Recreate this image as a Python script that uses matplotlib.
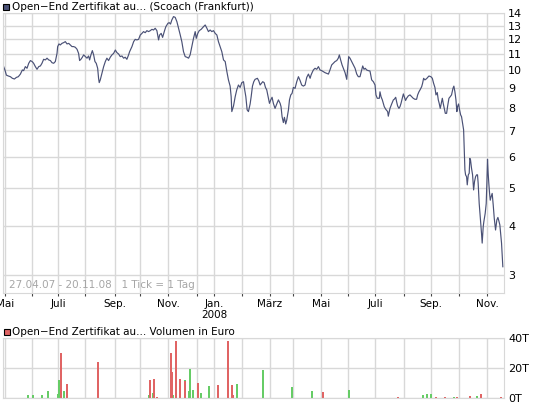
import numpy as np
import matplotlib
matplotlib.use('Agg')
import matplotlib.pyplot as plt
from matplotlib.patches import Rectangle
from matplotlib.ticker import FixedLocator, NullLocator

# ── Data (x = trading-day tick since 27.04.07, 1 Tick = 1 Tag) ────────────────
price_tick = [
    0, 1.3, 2.3, 3.8, 5.4, 6.9, 8.5, 10.0, 11.5, 13.1, 14.6, 15.6, 16.9, 18.2, 19.5,
    20.8, 22.1, 23.3, 24.6, 25.9, 27.2, 28.5, 29.7, 31.0, 32.3, 33.6, 34.9, 36.2,
    37.4, 38.7, 40.0, 41.3, 41.8, 42.8, 43.8, 45.1, 46.4, 47.7, 49.0, 50.3, 51.5,
    52.8, 54.1, 55.4, 56.7, 57.9, 58.7, 59.7, 60.8, 61.8, 63.1, 64.4, 65.6, 66.4,
    67.4, 68.5, 69.5, 70.5, 71.5, 72.6, 73.3, 73.8, 74.6, 75.9, 77.2, 78.5, 79.7,
    81.0, 82.3, 83.6, 84.9, 86.2, 87.4, 88.7, 90.0, 91.3, 92.6, 93.8, 95.1, 96.4,
    97.2, 99.0, 100.3, 101.5, 102.8, 104.1, 105.4, 106.7, 107.9, 109.2, 110.5,
    111.8, 113.1, 114.4, 115.6, 116.9, 118.2, 119.5, 120.3, 121.5, 122.6, 124.1,
    125.1, 126.7, 127.7, 128.7, 129.7, 131.0, 132.3, 133.6, 134.9, 136.2, 137.4,
    138.7, 140.0, 141.3, 142.6, 143.8, 145.1, 146.4, 147.7, 148.5, 149.7, 150.8,
    152.3, 154.1, 155.4, 156.7, 157.9, 159.2, 160.5, 161.8, 163.1, 164.4, 165.6,
    166.9, 168.2, 169.5, 170.8, 172.1, 173.3, 174.6, 175.4, 175.9, 177.2, 178.5,
    179.7, 181.0, 182.3, 183.6, 184.9, 185.6, 186.7, 187.7, 188.7, 190.0, 190.8,
    191.8, 192.8, 193.8, 195.6, 196.7, 197.7, 198.7, 199.7, 200.8, 201.8, 202.8,
    204.1, 204.9, 205.9, 206.9, 207.9, 209.2, 210.5, 211.8, 213.1, 213.8, 214.6,
    215.6, 216.4, 217.4, 218.2, 219.5, 220.3, 221.3, 222.3, 223.3, 224.6, 225.9,
    227.2, 228.5, 229.7, 231.0, 232.3, 233.6, 234.9, 236.2, 236.9, 237.7, 238.7,
    240.0, 241.3, 242.6, 243.8, 245.1, 246.4, 247.7, 249.0, 250.3, 251.5, 252.8,
    254.1, 255.4, 256.7, 257.9, 258.7, 259.7, 260.8, 261.8, 263.1, 264.4, 265.1,
    265.9, 266.9, 268.2, 269.5, 270.8, 272.1, 273.3, 274.6, 275.9, 276.7, 277.7,
    278.7, 279.7, 281.0, 282.3, 283.6, 284.9, 286.2, 286.9, 287.9, 289.5, 290.0,
    290.8, 291.8, 293.3, 294.4, 295.9, 296.4, 297.2, 297.7, 299.0, 300.3, 301.0,
    302.1, 302.8, 303.6, 304.6, 305.4, 306.2, 307.2, 308.0, 308.7, 309.7, 310.5,
    311.8, 313.1, 314.4, 315.6, 316.9, 318.2, 319.0, 320.0, 321.0, 322.1, 322.8,
    323.6, 324.6, 325.9, 326.7, 327.7, 329.2, 330.3, 331.3, 332.3, 333.1, 334.1,
    334.9, 335.6, 336.4, 337.2, 338.0, 338.7, 339.5, 340.3, 341.3, 342.1, 343.1,
    344.1, 345.1, 346.2, 346.9, 347.7, 348.5, 349.2, 349.7, 350.5, 351.3, 352.1,
    352.8, 353.6, 354.4, 354.9, 355.4, 355.9, 356.7, 357.2, 358.0, 358.7, 359.2,
    359.7, 360.5, 361.3, 362.1, 362.8, 363.6, 364.4, 365.1, 365.6, 366.4, 367.2,
    368.2, 368.7, 369.5, 370.0, 371.0, 371.8, 372.3, 372.8, 373.3, 373.8, 374.4,
    374.9, 375.6, 376.4, 377.2, 378.0, 379.0, 380.0, 380.8, 381.5, 382.3, 383.1,
    383.6, 384.1, 384.6,
]
price = [
    10.27, 10.00, 9.73, 9.68, 9.64, 9.55, 9.51, 9.60, 9.64, 9.79, 10.03, 9.99, 10.23,
    10.13, 10.43, 10.60, 10.54, 10.43, 10.23, 10.07, 10.23, 10.27, 10.43, 10.68,
    10.64, 10.75, 10.64, 10.60, 10.47, 10.43, 10.54, 11.06, 11.51, 11.69, 11.62,
    11.73, 11.78, 11.85, 11.69, 11.73, 11.62, 11.51, 11.51, 11.46, 11.33, 11.06,
    10.60, 10.68, 10.81, 10.96, 10.85, 10.75, 10.89, 10.64, 10.96, 11.24, 10.96,
    10.54, 10.43, 10.13, 9.55, 9.31, 9.46, 9.83, 10.23, 10.54, 10.75, 10.60, 10.81,
    10.96, 11.06, 11.28, 11.11, 11.02, 10.85, 10.89, 10.75, 10.81, 10.68, 10.96,
    11.17, 11.51, 11.85, 12.01, 11.97, 12.01, 12.32, 12.44, 12.57, 12.49, 12.64,
    12.57, 12.64, 12.74, 12.69, 12.82, 12.64, 11.97, 12.32, 12.44, 12.15, 12.64,
    12.94, 13.20, 13.25, 13.14, 13.46, 13.73, 13.67, 13.33, 12.82, 12.32, 11.85,
    11.17, 10.85, 10.81, 10.75, 10.96, 11.51, 12.08, 12.57, 12.08, 12.44, 12.64,
    12.74, 12.94, 13.07, 12.82, 12.57, 12.69, 12.57, 12.64, 12.44, 12.32, 11.85,
    11.51, 11.17, 10.64, 10.54, 9.93, 9.46, 9.12, 8.57, 7.85, 8.11, 8.57,
    8.92, 9.18, 9.05, 9.31, 9.36, 9.01, 8.57, 7.93, 7.85, 8.21, 8.57,
    9.12, 9.36, 9.49, 9.55, 9.40, 9.18, 9.27, 9.36, 9.31, 9.05, 8.92,
    8.49, 8.24, 8.41, 8.54, 8.24, 8.00, 8.21, 8.41, 8.24, 8.08, 7.62,
    7.36, 7.59, 7.30, 7.47, 7.93, 8.41, 8.66, 8.74, 9.05, 9.00, 9.36,
    9.64, 9.42, 9.18, 9.12, 9.18, 9.60, 9.79, 9.55, 9.73, 9.87, 10.03,
    10.13, 10.07, 10.23, 10.03, 9.99, 9.93, 9.87, 9.83, 9.79, 10.03, 10.33,
    10.43, 10.54, 10.60, 10.75, 10.96, 10.64, 10.33, 10.13, 9.87, 9.49, 10.13,
    10.85, 10.75, 10.54, 10.33, 10.13, 9.79, 9.64, 9.64, 10.03, 10.27, 10.07,
    10.13, 10.03, 9.99, 9.97, 9.46, 9.36, 9.18, 8.66, 8.49, 8.49, 8.82,
    8.57, 8.41, 8.08, 7.96, 7.85, 7.64, 7.85, 8.00, 8.21, 8.41, 8.44,
    8.54, 8.32, 8.11, 8.00, 8.08, 8.24, 8.49, 8.71, 8.57, 8.38, 8.49,
    8.61, 8.66, 8.57, 8.49, 8.44, 8.44, 8.66, 8.82, 8.94, 9.09, 9.27,
    9.55, 9.46, 9.53, 9.60, 9.68, 9.64, 9.55, 9.27, 9.05, 8.66, 8.78,
    8.41, 8.24, 8.00, 8.24, 8.49, 8.24, 8.00, 7.77, 7.77, 8.11, 8.49,
    8.57, 8.66, 9.00, 9.12, 8.82, 8.41, 7.85, 8.08, 8.21, 7.93, 7.70,
    7.62, 7.33, 7.05, 6.27, 5.57, 5.41, 5.35, 5.10, 5.41, 5.46, 5.96,
    5.91, 5.62, 5.41, 4.95, 5.20, 5.35, 5.41, 5.41, 5.15, 4.57, 4.23,
    3.83, 3.62, 3.99, 4.11, 4.31, 4.57, 5.15, 5.93, 5.46, 5.15, 4.85,
    4.66, 4.76, 4.85, 4.53, 4.19, 3.91, 4.15, 4.21, 4.13, 4.03, 3.76,
    3.62, 3.38, 3.15,
]

# volume in thousand euro; up = green, down = red
vol_up_tick = [19, 23, 30, 34, 42, 43, 47, 112, 115, 116, 131, 140, 143, 144, 146,
               152, 158, 180, 200, 222, 238, 266, 323, 326, 329, 347, 365]
vol_up = [2.2, 2.2, 2.2, 4.4, 2.7, 12.2, 4.4, 1.8, 3.1, 12.9, 1.8, 11.8, 4.4, 19.6,
          5.1, 3.1, 7.8, 9.6, 18.9, 7.1, 4.9, 5.6, 2.2, 2.9, 2.9, 0.9, 1.3]
vol_down_tick = [44, 49, 73, 113, 116, 118, 129, 130, 133, 136, 140, 150, 165, 173,
                 176, 177, 246, 304, 333, 340, 349, 359, 368, 383]
vol_down = [30.0, 9.6, 23.8, 11.8, 12.9, 0.7, 30.0, 17.1, 37.8, 12.9, 11.1, 10.0,
            8.4, 38.2, 8.4, 1.8, 4.0, 0.9, 0.9, 0.9, 0.9, 1.3, 2.9, 0.9]

# month starts (tick) and their labels
month_tick = [1.5, 22, 42, 62.5, 86, 105, 127, 149, 162.5, 184, 205, 223, 244.5,
              265.5, 286.5, 308.5, 329, 351, 372.5]
month_label = ['Mai', '', 'Juli', '', 'Sep.', '', 'Nov.', '', 'Jan.\n2008', '',
               'März', '', 'Mai', '', 'Juli', '', 'Sep.', '', 'Nov.']
price_ticks = [3, 4, 5, 6, 7, 8, 9, 10, 11, 12, 13, 14]
vol_ticks = [0, 20, 40]
vol_labels = ['0T', '20T', '40T']

LINE = '#4a5176'
GRID = '#d8d8d8'
RED = '#e06464'
GREEN = '#66cc66'
W, H = 545, 409

plt.rcParams['font.family'] = ['DejaVu Sans']

fig = plt.figure(figsize=(W / 100, H / 100), dpi=100)

def frac(x0, y_top, x1, y_bot):
    return [x0 / W, 1 - y_bot / H, (x1 - x0) / W, (y_bot - y_top) / H]

def style(ax):
    for s in ax.spines.values():
        s.set_color(GRID)
    ax.set_xlim(-0.3, 385.5)
    ax.xaxis.set_major_locator(FixedLocator(month_tick))
    ax.grid(True, color=GRID, lw=1)
    ax.set_axisbelow(True)
    ax.yaxis.tick_right()
    ax.tick_params(axis='y', length=0, pad=3, labelsize=8)

# ── Price panel ───────────────────────────────────────────────────────────────
ax = fig.add_axes(frac(3, 13.3, 504, 293.3))
style(ax)
ax.plot(price_tick, price, color=LINE, lw=0.85)
ax.set_yscale('log')
ax.set_ylim(2.694, 14)
ax.yaxis.set_major_locator(FixedLocator(price_ticks))
ax.yaxis.set_minor_locator(NullLocator())
ax.set_yticklabels([str(v) for v in price_ticks])
ax.set_xticklabels(month_label)
ax.tick_params(axis='x', length=2, color='#444444', labelsize=7.5, pad=2)
ax.text(0.012, 0.028, '27.04.07 - 20.11.08   1 Tick = 1 Tag', transform=ax.transAxes,
        color='#a6a6a6', fontsize=7.5, va='center', ha='left')

# ── Volume panel ──────────────────────────────────────────────────────────────
ax2 = fig.add_axes(frac(3, 338, 504, 398))
style(ax2)
ax2.bar(vol_up_tick, vol_up, width=1.5, color=GREEN, lw=0)
ax2.bar(vol_down_tick, vol_down, width=1.5, color=RED, lw=0)
ax2.set_ylim(0, 40)
ax2.set_yticks(vol_ticks)
ax2.set_yticklabels(vol_labels)
ax2.tick_params(axis='x', length=0, labelbottom=False)

# ── Legends ───────────────────────────────────────────────────────────────────
fig.patches.append(Rectangle((3 / W, 1 - 10 / H), 6 / W, 6 / H, transform=fig.transFigure,
                             facecolor=LINE, edgecolor='black', lw=0.8))
fig.text(11.5 / W, 1 - 7 / H, 'Open−End Zertifikat au... (Scoach (Frankfurt))',
         fontsize=7.5, va='center', ha='left')
fig.patches.append(Rectangle((4 / W, 1 - 335 / H), 6 / W, 6 / H, transform=fig.transFigure,
                             facecolor=RED, edgecolor='black', lw=0.8))
fig.text(12.5 / W, 1 - 331.7 / H, 'Open−End Zertifikat au... Volumen in Euro',
         fontsize=7.5, va='center', ha='left')

fig.savefig('out.png', dpi=100)
